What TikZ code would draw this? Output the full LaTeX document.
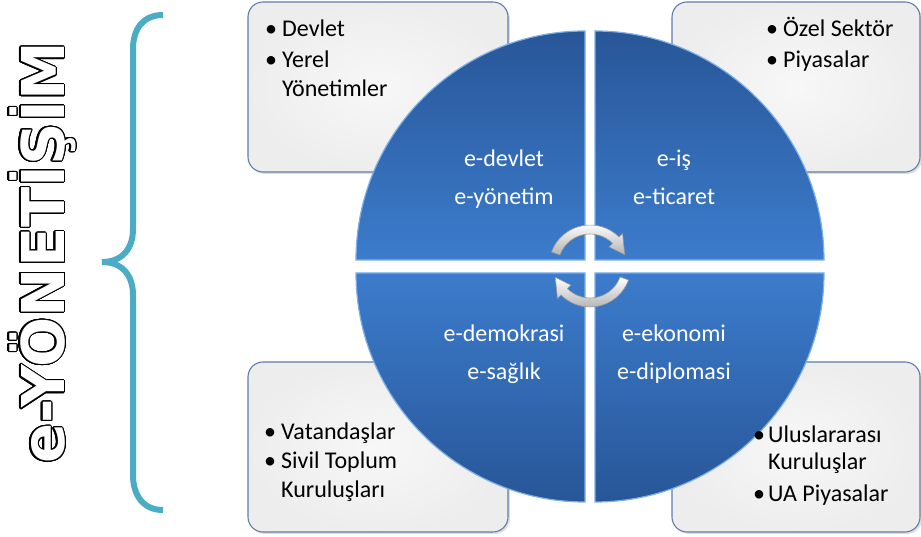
\documentclass[tikz,border=0pt]{standalone}
\usepackage{fontspec}
\setmainfont{Carlito}
\newfontfamily\titlefont{DejaVu Sans}
\usepackage{contour}
\usetikzlibrary{calc,shadows}
\contourlength{1.1pt}
\contournumber{32}
\definecolor{bracecol}{RGB}{75,172,198}
\definecolor{quaddark}{RGB}{40,86,152}
\definecolor{quadlight}{RGB}{60,124,204}
\definecolor{quadedge}{RGB}{125,175,232}
\definecolor{boxline}{RGB}{95,125,170}
\newcommand{\itemfont}{\fontsize{24}{29}\selectfont}
\newcommand{\bul}{\makebox[17pt][l]{\textbullet}}
\tikzset{
listbox/.style={draw=boxline,line width=1.1pt,rounded corners=15pt,
inner color=black!3,outer color=black!7,
drop shadow={opacity=0.25,shadow xshift=2pt,shadow yshift=-2pt}},
quad top/.style={top color=quaddark,bottom color=quadlight,draw=quadedge,line width=1.2pt},
quad bottom/.style={top color=quadlight,bottom color=quaddark,draw=quadedge,line width=1.2pt},
qlabel/.style={text=white,font=\itemfont,anchor=base,inner sep=0pt},
entry/.style={font=\itemfont,anchor=base west,inner sep=0pt},
turn/.style={top color=white,bottom color=black!30,draw=black!40,line width=0.6pt},
}

\begin{document}
\begin{tikzpicture}[x=1pt,y=1pt]
\useasboundingbox (0,0) rectangle (921,537);

% title and brace
\node[rotate=90,anchor=base,inner sep=0pt] (title) at (64,284)
  {\titlefont\bfseries\fontsize{59}{59}\selectfont\color{white}\contour{black}{e-YÖNETİŞİM}};
\draw[bracecol,line width=6pt] (163,522) .. controls (143,522) and (133,508) .. (133,488)
  -- (133,308) .. controls (133,288) and (122,275) .. (102,275)
  .. controls (122,275) and (133,262) .. (133,242)
  -- (133,62) .. controls (133,42) and (143,27) .. (163,27);

% boxes
\node[listbox,minimum width=260pt,minimum height=170pt] (govbox) at (378,450) {};
\node[listbox,minimum width=248pt,minimum height=170pt] (marketbox) at (796,450) {};
\node[listbox,minimum width=260pt,minimum height=170pt] (civilbox) at (378,90) {};
\node[listbox,minimum width=248pt,minimum height=170pt] (intlbox) at (796,90) {};

% quadrants
\coordinate (tl) at (585,277);
\coordinate (tr) at (595,277);
\coordinate (bl) at (585,264);
\coordinate (br) at (595,264);
\draw[quad top] (tl) -- ++(-229,0) arc[start angle=180,end angle=90,radius=229] -- cycle;
\draw[quad top] (tr) -- ++(0,229) arc[start angle=90,end angle=0,radius=229] -- cycle;
\draw[quad bottom] (bl) -- ++(0,-229) arc[start angle=270,end angle=180,radius=229] -- cycle;
\draw[quad bottom] (br) -- ++(229,0) arc[start angle=0,end angle=-90,radius=229] -- cycle;

\node[entry] (devlet) at (265,500) {\bul Devlet};
\node[entry] (yerel) at (265,469) {\bul Yerel};
\node[entry] (yerelb) at (282,440) {Yönetimler};
\node[entry] (ozel) at (766,500) {\bul Özel Sektör};
\node[entry] (piyasa) at (766,469) {\bul Piyasalar};
\node[entry] (vatandas) at (264,97) {\bul Vatandaşlar};
\node[entry] (sivil) at (264,68) {\bul Sivil Toplum};
\node[entry] (sivilb) at (281,39) {Kuruluşları};
\node[entry] (ulus) at (753,94) {\makebox[15pt][l]{\textbullet}Uluslararası};
\node[entry] (ulusb) at (768,67) {Kuruluşlar};
\node[entry] (uapiyasa) at (753,35) {\makebox[15pt][l]{\textbullet}UA Piyasalar};

\node[qlabel] (edevlet) at (504,370) {e-devlet};
\node[qlabel] (eyonetim) at (504,332) {e-yönetim};
\node[qlabel] (eis) at (674,370) {e-iş};
\node[qlabel] (eticaret) at (674,332) {e-ticaret};
\node[qlabel] (edemokrasi) at (504,195) {e-demokrasi};
\node[qlabel] (esaglik) at (504,157) {e-sağlık};
\node[qlabel] (eekonomi) at (674,195) {e-ekonomi};
\node[qlabel] (ediplomasi) at (674,157) {e-diplomasi};

% turning arrows
\coordinate (hub) at (590,271);
\draw[turn] ($(hub)+(160:41)$) arc[start angle=160,end angle=45,radius=41]
  -- ($(hub)+(45:46)$) -- ($(hub)+(18:36.5)$) -- ($(hub)+(45:27)$)
  -- ($(hub)+(45:32)$) arc[start angle=45,end angle=160,radius=32] -- cycle;
\draw[turn] ($(hub)+(-20:41)$) arc[start angle=-20,end angle=-135,radius=41]
  -- ($(hub)+(-135:46)$) -- ($(hub)+(-162:36.5)$) -- ($(hub)+(-135:27)$)
  -- ($(hub)+(-135:32)$) arc[start angle=-135,end angle=-20,radius=32] -- cycle;
\end{tikzpicture}
\end{document}
